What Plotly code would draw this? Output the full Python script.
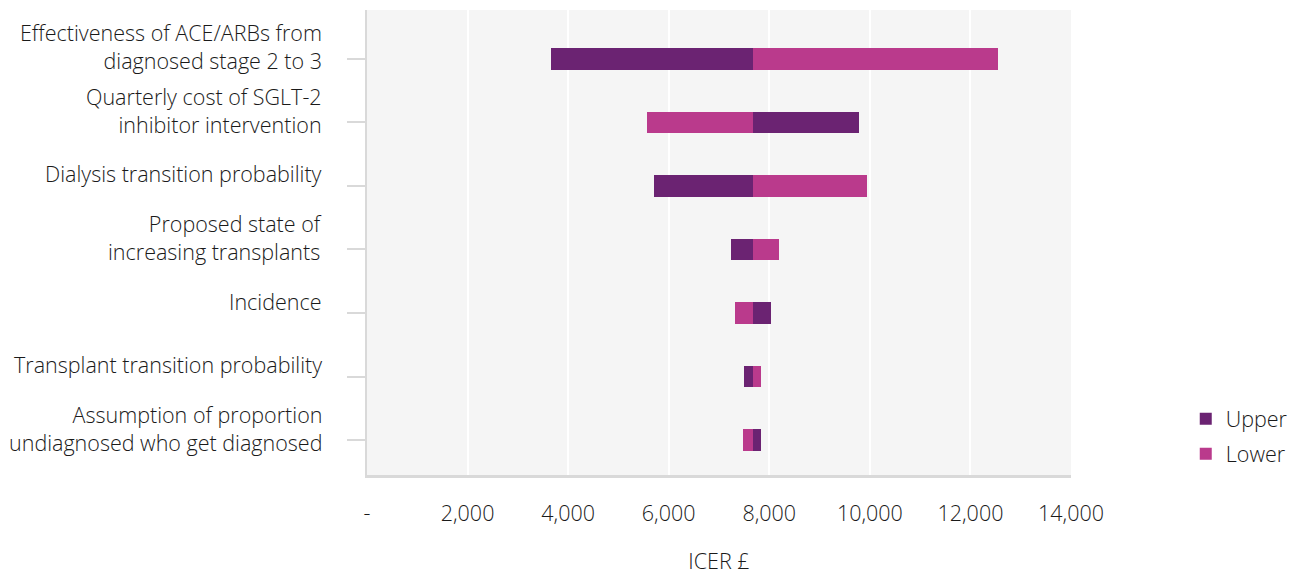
import plotly.graph_objects as go

categories = [
    "Effectiveness of ACE/ARBs from<br>diagnosed stage 2 to 3",
    "Quarterly cost of SGLT-2<br>inhibitor intervention",
    "Dialysis transition probability",
    "Proposed state of<br>increasing transplants",
    "Incidence",
    "Transplant transition probability",
    "Assumption of proportion<br>undiagnosed who get diagnosed",
]
base_icer = 7670
upper_icer = [3660, 9780, 5700, 7240, 8030, 7490, 7830]
lower_icer = [12540, 5570, 9940, 8190, 7310, 7830, 7480]
tick_vals = [0, 2000, 4000, 6000, 8000, 10000, 12000, 14000]
tick_text = ["-", "2,000", "4,000", "6,000", "8,000", "10,000", "12,000", "14,000"]

UPPER_C = "#6B2372"
LOWER_C = "#BA3A8C"
FONT = "Open Sans"
TXT = "#1a1a1a"
FS = 21.5

fig = go.Figure()
fig.add_trace(go.Bar(
    name="Upper", y=categories, x=[v - base_icer for v in upper_icer], base=base_icer,
    orientation="h", marker=dict(color=UPPER_C, line=dict(width=0)), width=0.34,
    legendgroup="u",
))
fig.add_trace(go.Bar(
    name="Lower", y=categories, x=[v - base_icer for v in lower_icer], base=base_icer,
    orientation="h", marker=dict(color=LOWER_C, line=dict(width=0)), width=0.34,
    legendgroup="l",
))

for c in categories:
    fig.add_annotation(
        xref="paper", yref="y", x=0, y=c, text=c, showarrow=False,
        xanchor="right", yanchor="middle", align="right", xshift=-43, yshift=12,
        font=dict(family=FONT, size=FS, color=TXT, weight=300),
    )

fig.update_layout(
    width=1296, height=567,
    margin=dict(l=359, r=233, t=2, b=100),
    paper_bgcolor="white", plot_bgcolor="#F5F5F5",
    barmode="overlay", bargap=0,
    font=dict(family=FONT, size=FS, color=TXT, weight=300),
    legend=dict(
        x=1.163, y=0.165, xanchor="left", yanchor="top", traceorder="grouped",
        tracegroupgap=4,
        font=dict(family=FONT, size=FS, color=TXT, weight=300), itemwidth=30,
        bgcolor="rgba(0,0,0,0)",
    ),
    xaxis=dict(
        range=[0, 14000], tickvals=tick_vals, ticktext=tick_text,
        showgrid=True, gridcolor="white", gridwidth=2,
        showline=True, linecolor="#D9D9D9", linewidth=3, mirror=False,
        ticks="", zeroline=False, ticklabelstandoff=17,
        tickfont=dict(family=FONT, size=FS, color=TXT, weight=300),
        title=dict(text="ICER £", standoff=31,
                   font=dict(family=FONT, size=FS, color=TXT, weight=300)),
    ),
    yaxis=dict(
        categoryorder="array", categoryarray=categories,
        range=[6.55, -0.77], showticklabels=False,
        showgrid=False, zeroline=False,
        showline=True, linecolor="#D9D9D9", linewidth=2,
        ticks="outside", ticklen=18, tickwidth=2, tickcolor="#D9D9D9",
    ),
)

fig.write_html("out.html")
